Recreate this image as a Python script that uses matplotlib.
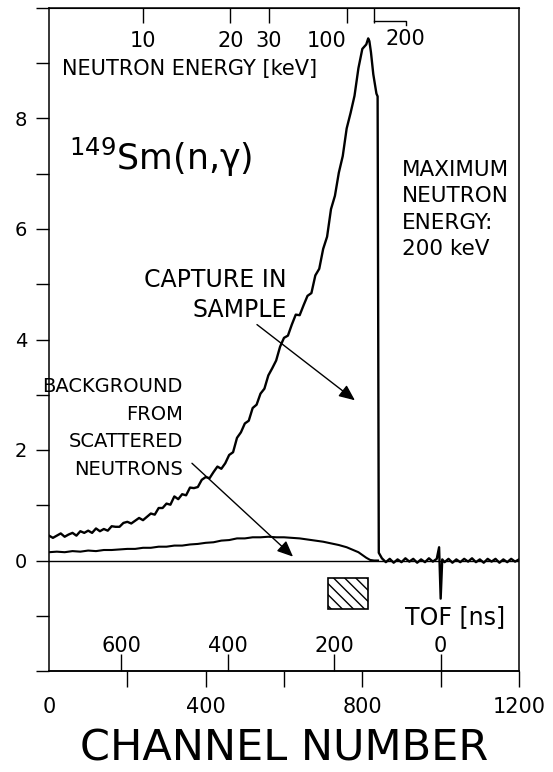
import numpy as np
import matplotlib
matplotlib.use("Agg")
import matplotlib.pyplot as plt
from matplotlib.patches import Rectangle

# ---------------- data ----------------
capture_ch = [0, 10, 20, 30, 40, 50, 60, 70, 80, 90, 100, 110, 120, 130, 140, 150, 160, 170, 180, 190,
              200, 210, 220, 230, 240, 250, 260, 270, 280, 290, 300, 310, 320, 330, 340, 350, 360, 370, 380, 390,
              400, 410, 420, 430, 440, 450, 460, 470, 480, 490, 500, 510, 520, 530, 540, 550, 560, 570, 580, 590,
              600, 610, 620, 630, 640, 650, 660, 670, 680, 690, 700, 710, 720, 730, 740, 750, 760, 770, 780, 790,
              800, 810, 815, 818, 822, 828, 836, 839, 842, 850, 860, 870, 880, 890, 900, 910, 920, 930, 940, 950,
              960, 970, 980, 990, 996, 1000, 1004, 1010, 1020, 1030, 1040, 1050, 1060, 1070, 1080, 1090, 1100,
              1110, 1120, 1130, 1140, 1150, 1160, 1170, 1180, 1190, 1200]
capture_counts = [0.45, 0.41, 0.45, 0.49, 0.43, 0.47, 0.50, 0.45, 0.53, 0.50, 0.54, 0.50, 0.58, 0.53, 0.57, 0.54,
                  0.62, 0.61, 0.61, 0.68, 0.70, 0.67, 0.72, 0.77, 0.73, 0.79, 0.85, 0.83, 0.95, 0.95, 1.03, 1.01,
                  1.16, 1.11, 1.20, 1.18, 1.32, 1.31, 1.33, 1.46, 1.51, 1.49, 1.60, 1.70, 1.66, 1.76, 1.91, 1.96,
                  2.22, 2.32, 2.48, 2.53, 2.76, 2.82, 3.02, 3.11, 3.35, 3.48, 3.62, 3.87, 4.03, 4.07, 4.27, 4.45,
                  4.44, 4.62, 4.79, 4.84, 5.16, 5.28, 5.64, 5.86, 6.36, 6.60, 7.02, 7.32, 7.82, 8.10, 8.41, 8.91,
                  9.26, 9.34, 9.45, 9.40, 9.20, 8.80, 8.45, 8.40, 0.14, 0.04, -0.03, 0.03, -0.04, 0.02, -0.03, 0.04,
                  -0.02, 0.03, -0.04, 0.02, -0.03, 0.04, -0.02, 0.03, 0.24, -0.69, 0.02, -0.03, 0.03, -0.04, 0.02,
                  -0.03, 0.03, -0.02, 0.04, -0.03, 0.02, -0.04, 0.03, -0.02, 0.03, -0.04, 0.02, -0.03, 0.03, -0.02,
                  0.02]

background_ch = [0, 20, 40, 60, 80, 100, 120, 140, 160, 180, 200, 220, 240, 260, 280, 300, 320, 340, 360, 380,
                 400, 420, 440, 460, 480, 500, 520, 540, 560, 580, 600, 620, 640, 660, 680, 700, 720, 740, 760,
                 770, 780, 790, 800, 810, 820, 830, 840]
background_counts = [0.15, 0.16, 0.15, 0.17, 0.16, 0.18, 0.17, 0.19, 0.19, 0.20, 0.21, 0.21, 0.23, 0.23, 0.25,
                     0.25, 0.27, 0.27, 0.29, 0.30, 0.32, 0.33, 0.36, 0.37, 0.40, 0.40, 0.42, 0.42, 0.43, 0.42,
                     0.42, 0.41, 0.40, 0.38, 0.36, 0.34, 0.31, 0.28, 0.24, 0.21, 0.18, 0.15, 0.10, 0.05, 0.01,
                     0.00, 0.00]

y_ticks = [-2, -1, 0, 1, 2, 3, 4, 5, 6, 7, 8, 9, 10]
y_ticklabels = ['', '', '0', '', '2', '', '4', '', '6', '', '8', '', '']
x_ticks = [0, 200, 400, 600, 800, 1000, 1200]
x_ticklabels = ['0', '', '400', '', '800', '', '1200']
tof_ticks = [600, 400, 200, 0]
energy_ticks = [10, 20, 30, 100, 200]
energy_ticklabels = ['10', '20', '30', '100', '']

# detector calibration: channel 1000 = TOF 0, 1.36 channels per ns; flight path constant
CH0, CH_PER_NS, E_CONST = 1000.0, 1.36, 1765.0

def ch2tof(c):
    return (CH0 - np.asarray(c, dtype=float)) / CH_PER_NS

def tof2ch(t):
    return CH0 - CH_PER_NS * np.asarray(t, dtype=float)

def energy2ch(e):
    return tof2ch(E_CONST / np.sqrt(np.asarray(e, dtype=float)))

# ---------------- figure ----------------
plt.rcParams['font.family'] = ['DejaVu Sans']
fig = plt.figure(figsize=(5.53, 7.72), dpi=100)
ax = fig.add_axes([49 / 553, 1 - 671 / 772, 470 / 553, 663 / 772])

ax.plot(capture_ch, capture_counts, color='black', lw=1.7)
ax.plot(background_ch, background_counts, color='black', lw=1.5)
ax.axhline(0, color='black', lw=1.0)

ax.set_xlim(0, 1200)
ax.set_ylim(-2, 10)

for s in ax.spines.values():
    s.set_linewidth(1.1)

ax.set_yticks(y_ticks)
ax.set_yticklabels(y_ticklabels)
ax.tick_params(axis='y', direction='out', length=9.5, width=1.0, pad=6, labelsize=14)
ax.set_xticks(x_ticks)
ax.set_xticklabels(x_ticklabels)
ax.tick_params(axis='x', direction='out', length=11.5, width=1.0, pad=7, labelsize=15)
ax.xaxis.get_major_ticks()[0].tick1line.set_visible(False)
ax.set_xlabel('CHANNEL NUMBER', fontsize=31, labelpad=7.5)

# TOF axis (inside, on bottom)
sec = ax.secondary_xaxis('bottom', functions=(ch2tof, tof2ch))
sec.set_xticks(tof_ticks)
sec.set_xticklabels([str(t) for t in tof_ticks])
sec.tick_params(direction='in', length=12, width=1.0, pad=-25, labelsize=15)
sec.spines['bottom'].set_linewidth(1.1)

# neutron energy axis (inside, on top)
top = ax.secondary_xaxis('top')
top.set_xticks(energy2ch(energy_ticks))
top.set_xticklabels(energy_ticklabels)
top.tick_params(direction='in', length=11, width=1.0, pad=-31, labelsize=15)
for lab, e in zip(top.get_xticklabels(), energy_ticks):
    if e == 100:
        lab.set_ha('right')

# 200 keV marker with bracket
e200 = float(energy2ch(200))
ax.plot([e200, e200 + 80, e200 + 80], [9.76, 9.76, 9.70], color='black', lw=1.0, clip_on=False)
ax.text(e200 + 28, 9.44, '200', fontsize=15, ha='left', va='center')

ax.text(33, 8.89, 'NEUTRON ENERGY [keV]', fontsize=15, ha='left', va='center')
ax.text(50, 7.3, r'$^{149}$Sm(n,γ)', fontsize=25, ha='left', va='center')

ax.text(900, 6.35, 'MAXIMUM\nNEUTRON\nENERGY:\n200 keV', fontsize=15.5, ha='left', va='center',
        linespacing=1.4)

ax.text(607, 4.8, 'CAPTURE IN\nSAMPLE', fontsize=17, ha='right', va='center', linespacing=1.3)
ax.annotate('', xy=(781, 2.9), xytext=(531, 4.27),
            arrowprops=dict(arrowstyle='-|>,head_length=0.8,head_width=0.35', color='black', lw=1.0,
                            shrinkA=0, shrinkB=0, mutation_scale=12))

ax.text(342, 2.4, 'BACKGROUND\nFROM\nSCATTERED\nNEUTRONS', fontsize=14, ha='right', va='center',
        linespacing=1.58)
ax.annotate('', xy=(623, 0.07), xytext=(365, 1.76),
            arrowprops=dict(arrowstyle='-|>,head_length=0.8,head_width=0.35', color='black', lw=1.0,
                            shrinkA=0, shrinkB=0, mutation_scale=12))

ax.add_patch(Rectangle((712, -0.87), 102, 0.56, facecolor='white', edgecolor='black', lw=1.2,
                       hatch='\\\\\\'))

ax.text(1164, -1.02, 'TOF [ns]', fontsize=17, ha='right', va='center')

fig.savefig('out.png', dpi=100)
